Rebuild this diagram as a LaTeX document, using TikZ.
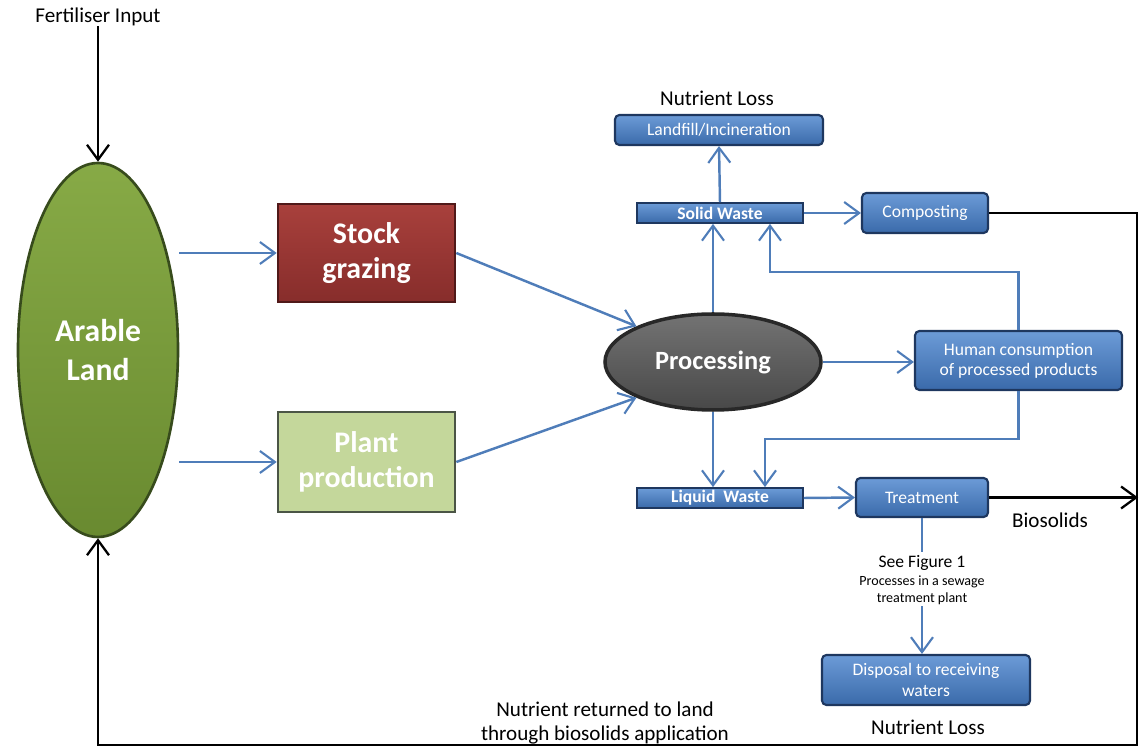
\documentclass[tikz,border=0pt]{standalone}
\usepackage{fontspec}
\setmainfont{Carlito}
\usetikzlibrary{arrows.meta,shapes.geometric}
\definecolor{flowblue}{RGB}{79,125,185}
\definecolor{boxtop}{RGB}{108,155,215}
\definecolor{boxbot}{RGB}{58,106,170}
\definecolor{boxedge}{RGB}{30,55,95}
\definecolor{landtop}{RGB}{135,170,70}
\definecolor{landbot}{RGB}{105,138,48}
\definecolor{landedge}{RGB}{55,75,28}
\definecolor{stocktop}{RGB}{168,64,60}
\definecolor{stockbot}{RGB}{135,45,43}
\definecolor{plantfill}{RGB}{196,215,155}

\begin{document}
\begin{tikzpicture}[
  every node/.style={inner sep=0pt},
  flow/.style={draw=flowblue, line width=1.4pt, -{Straight Barb[length=3mm,width=4.4mm,line width=1.2pt]}},
  feed/.style={draw=black, line width=1.3pt},
  feedtip/.style={-{Straight Barb[length=3mm,width=4.4mm,line width=1.3pt]}},
  bluebox/.style={rounded corners=2.5pt, draw=boxedge, line width=1.2pt, top color=boxtop, bottom color=boxbot, text=white, font=\fontsize{10}{11.5}\selectfont, align=center},
  wastebar/.style={draw=boxedge, line width=1pt, top color=boxtop, bottom color=boxbot, text=white, font=\fontsize{10}{11}\selectfont\bfseries, minimum width=3.32cm, minimum height=0.4cm},
  bigbox/.style={draw, line width=1.5pt, text=white, font=\fontsize{17}{20}\selectfont\bfseries, align=center, minimum width=3.54cm},
  note/.style={font=\fontsize{12}{14}\selectfont, align=center}
]
\useasboundingbox (0,0) rectangle (22.82,-15.08);

\node[note] (fert) at (1.96,-0.34) {Fertiliser Input};
\node[ellipse, draw=landedge, line width=1.5pt, top color=landtop, bottom color=landbot, minimum width=3.2cm, minimum height=7.48cm, text=white, font=\fontsize{18}{22}\selectfont\bfseries, align=center] (arable) at (1.96,-7.0) {Arable\\Land};

\node[bigbox, draw={rgb,255:red,80;green,25;blue,25}, top color=stocktop, bottom color=stockbot, minimum height=1.96cm] (stock) at (7.33,-5.06) {Stock\\grazing};
\node[bigbox, draw={rgb,255:red,75;green,85;blue,70}, fill=plantfill, minimum height=2.0cm] (plant) at (7.33,-9.24) {Plant\\production};

\node[ellipse, draw={rgb,255:red,40;green,40;blue,40}, line width=2pt, top color={rgb,255:red,115;green,115;blue,115}, bottom color={rgb,255:red,72;green,72;blue,72}, minimum width=4.32cm, minimum height=1.92cm, text=white, font=\fontsize{15}{18}\selectfont\bfseries] (proc) at (14.26,-7.24) {Processing};

\node[note] (lossup) at (14.34,-1.96) {Nutrient Loss};
\node[bluebox, minimum width=4.16cm, minimum height=0.6cm] (landfill) at (14.38,-2.6) {Landfill/Incineration};
\node[wastebar] (solid) at (14.4,-4.26) {Solid Waste};
\node[bluebox, minimum width=2.52cm, minimum height=0.8cm] (compost) at (18.5,-4.26) {Composting};
\node[bluebox, minimum width=4.14cm, minimum height=1.18cm] (human) at (20.37,-7.21) {Human consumption\\of processed products};
\node[wastebar] (liquid) at (14.4,-9.96) {Liquid\ \ Waste};
\node[bluebox, minimum width=2.64cm, minimum height=0.78cm] (treat) at (18.44,-9.95) {Treatment};
\node[bluebox, minimum width=4.16cm, minimum height=1.0cm] (disp) at (18.52,-13.6) {Disposal to receiving\\waters};
\node[note] (lossdown) at (18.56,-14.54) {Nutrient Loss};
\node[note] (bio) at (21.0,-10.4) {Biosolids};
\node[note] (return) at (12.1,-14.46) {Nutrient returned to land\\through biosolids application};

\coordinate (bioend) at (22.76,-9.95);
\coordinate (ne) at (22.74,-4.26);
\coordinate (se) at (22.74,-14.9);

\draw[feed, feedtip] (fert) -- (arable.north);
\draw[feed, feedtip] (compost.east) -- (ne) -- (se) -| (arable.south);
\draw[feed, feedtip] (treat.east) -- (bioend);

\draw[flow] (arable.east |- stock.west) -- (stock.west);
\draw[flow] (arable.east |- plant.west) -- (plant.west);
\draw[flow] (stock.east) -- (proc.155);
\draw[flow] (plant.east) -- (proc.205);
\draw[flow] (proc.east) -- (proc.east -| human.west);
\draw[flow] (proc.north) -- (proc.north |- solid.south);
\draw[flow] (solid.north) -- (landfill.south);
\draw[flow] (solid.east) -- (compost.west);
\draw[flow] (human.north) -- ++(0,1.16) -| ([xshift=1cm]solid.south);
\draw[flow] (proc.south) -- (proc.south |- liquid.north);
\draw[flow] (human.south) -- ++(0,-0.96) -| ([xshift=0.9cm]liquid.north);
\draw[flow] (liquid.east) -- (treat.west);
\draw[flow] (treat.south) -- (treat.south |- disp.north);

\node[fill=white, inner sep=2pt, font=\fontsize{10}{12}\selectfont] (seefig) at (18.44,-11.26) {See Figure 1};
\node[fill=white, inner sep=1pt, font=\fontsize{8}{9.5}\selectfont, align=center] (sewage) at (18.44,-11.8) {Processes in a sewage\\treatment plant};
\end{tikzpicture}
\end{document}
